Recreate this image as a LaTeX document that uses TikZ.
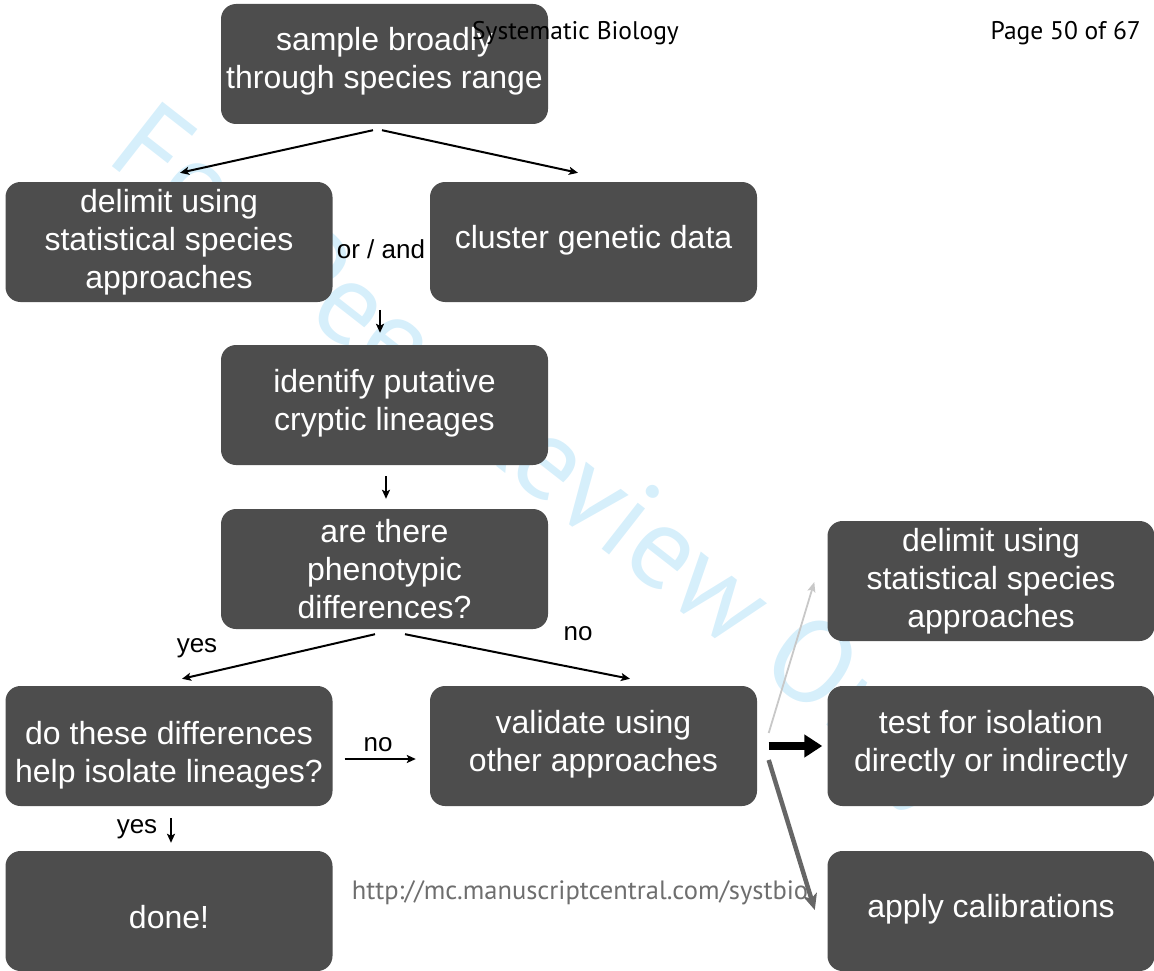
\documentclass[tikz,border=0pt]{standalone}
\usepackage{fontspec}
\setmainfont{Liberation Sans}
\newfontfamily\hdrfont{PT Sans}
\usetikzlibrary{arrows.meta,calc}
\definecolor{boxgray}{RGB}{77,77,77}
\definecolor{wmblue}{RGB}{214,239,251}
\definecolor{lightarr}{RGB}{200,200,200}
\definecolor{darkarr}{RGB}{102,102,102}
\definecolor{urlgray}{RGB}{110,110,110}
\begin{document}
\begin{tikzpicture}[x=1pt,y=-1pt,
  box/.style={fill=boxgray, rounded corners=15pt, minimum width=327pt, minimum height=120pt, inner sep=0pt},
  boxtext/.style={text=white, align=center, font=\fontsize{32}{38}\selectfont, inner sep=0pt},
  arr/.style={line width=2pt, -{Stealth[length=9pt,width=8pt,inset=2pt]}},
  lbl/.style={font=\fontsize{26}{30}\selectfont, inner sep=0pt},
  hdr/.style={font=\hdrfont\fontsize{25.5}{30}\selectfont, inner sep=0pt},
  urlst/.style={font=\hdrfont\fontsize{26.5}{30}\selectfont, text=urlgray, inner sep=0pt},
  wm/.style={font=\hdrfont\fontsize{117}{117}\selectfont, text=wmblue, inner sep=0pt}]
\useasboundingbox (0,0) rectangle (1154,971);
% watermark
\node[wm, anchor=base west, rotate=-38] (wmark) at (104,160) {For Peer Review Only};
% boxes
\node[box] (A) at (384.5,64) {};
\node[box] (B) at (169,242) {};
\node[box] (C) at (593.5,242) {};
\node[box] (D) at (384.5,405) {};
\node[box] (E) at (384.5,569) {};
\node[box] (F) at (169,746) {};
\node[box] (G) at (593.5,746) {};
\node[box] (H) at (169,911) {};
\node[box] (I) at (991,581) {};
\node[box] (J) at (991,746) {};
\node[box] (K) at (991,911) {};
% box texts
\node[boxtext] (At) at ($(A)+(0,-3)$) {sample broadly\\through species range};
\node[boxtext] (Bt) at ($(B)+(0,0)$) {delimit using\\statistical species\\approaches};
\node[boxtext] (Ct) at ($(C)+(0,-2)$) {cluster genetic data};
\node[boxtext] (Dt) at ($(D)+(0,-2)$) {identify putative\\cryptic lineages};
\node[boxtext] (Et) at ($(E)+(0,0)$) {are there\\phenotypic\\differences?};
\node[boxtext] (Ft) at ($(F)+(0,9)$) {do these differences\\help isolate lineages?};
\node[boxtext] (Gt) at ($(G)+(0,-2)$) {validate using\\other approaches};
\node[boxtext] (Ht) at ($(H)+(0,6)$) {done!};
\node[boxtext] (It) at ($(I)+(0,0)$) {delimit using\\statistical species\\approaches};
\node[boxtext] (Jt) at ($(J)+(0,-2)$) {test for isolation\\directly or indirectly};
\node[boxtext] (Kt) at ($(K)+(0,-2)$) {apply calibrations};
% connector ends
\coordinate (a1) at ($(A.south)+(-11.5,6)$);
\coordinate (a2) at ($(A.south)+(-2.5,6)$);
\coordinate (b1) at ($(B.north)+(11,-9)$);
\coordinate (c1) at ($(C.north)+(-15.5,-9)$);
\coordinate (d0) at ($(D.north)+(-4.5,-35)$);
\coordinate (d1) at ($(D.north)+(-4.5,-12)$);
\coordinate (e0) at ($(D.south)+(1.5,11)$);
\coordinate (e1) at ($(E.north)+(1.5,-10)$);
\coordinate (e2) at ($(E.south)+(-9.5,5)$);
\coordinate (f1) at ($(F.north)+(13,-7)$);
\coordinate (e3) at ($(E.south)+(20.5,5)$);
\coordinate (g1) at ($(G.north)+(36.5,-7)$);
\coordinate (f2) at ($(F.east)+(12,13)$);
\coordinate (g2) at ($(G.west)+(-14,13)$);
\coordinate (f3) at ($(F.south)+(2,12)$);
\coordinate (h1) at ($(H.north)+(2,-8)$);
\coordinate (g3) at ($(G.east)+(11.5,-13)$);
\coordinate (i1) at ($(I.west)+(-13,1)$);
\coordinate (g4) at ($(G.east)+(11.5,0)$);
\coordinate (j1) at ($(J.west)+(-5,0)$);
\coordinate (g5) at ($(G.east)+(11.5,14)$);
\coordinate (k1) at ($(K.west)+(-12.5,-1)$);
% connectors
\draw[arr] (a1) -- (b1);
\draw[arr] (a2) -- (c1);
\draw[arr] (d0) -- (d1);
\draw[arr] (e0) -- (e1);
\draw[arr] (e2) -- (f1);
\draw[arr] (e3) -- (g1);
\draw[arr] (f2) -- (g2);
\draw[arr] (f3) -- (h1);
\draw[draw=lightarr, line width=1.8pt, -{Stealth[length=10pt,width=8pt,inset=2pt]}] (g3) -- (i1);
\draw[line width=8pt, -{Triangle[length=18pt,width=22pt]}] (g4) -- (j1);
\draw[draw=darkarr, line width=4.5pt, -{Stealth[length=16pt,width=14pt,inset=4pt]}] (g5) -- (k1);
% labels
\node[lbl] (l1) at (381,249) {or / and};
\node[lbl] (l2) at (197,648) {yes};
\node[lbl] (l3) at (578,634) {no};
\node[lbl] (l4) at (378,745) {no};
\node[lbl] (l5) at (137,829) {yes};
% header and footer
\node[hdr] (h1t) at (575.5,33) {Systematic Biology};
\node[hdr, anchor=east] (h2t) at (1141,33) {Page 50 of 67};
\node[urlst] (url) at (580,893) {http://mc.manuscriptcentral.com/systbio};
\end{tikzpicture}
\end{document}
